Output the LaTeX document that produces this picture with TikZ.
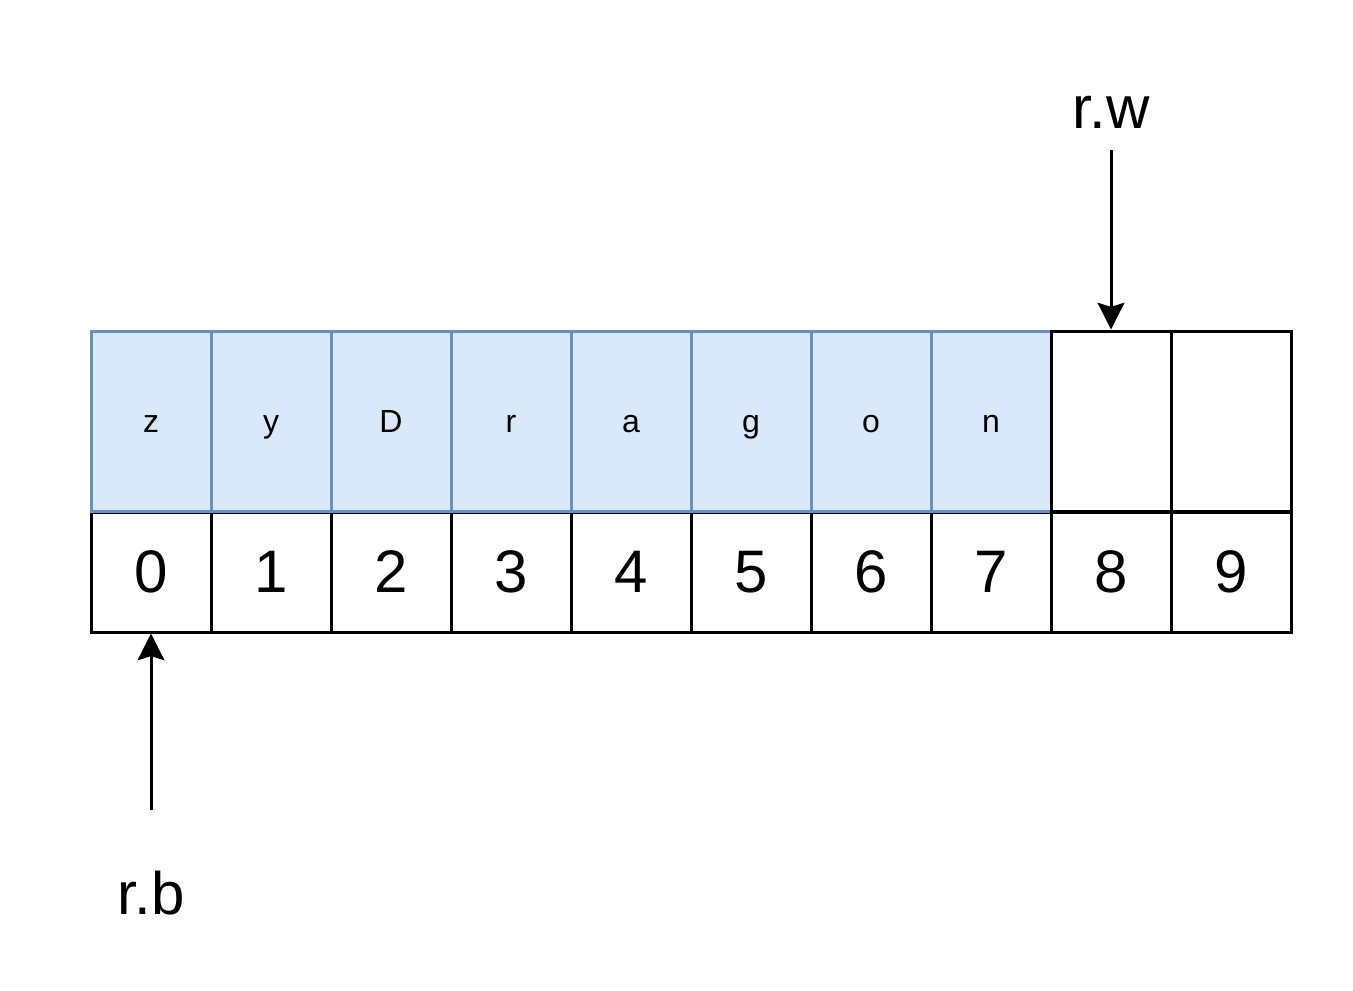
\documentclass[tikz,border=0pt]{standalone}
\usepackage{fontspec}
\setmainfont{Liberation Sans}
\usetikzlibrary{arrows.meta}

\definecolor{cellfill}{HTML}{DAE8FC}
\definecolor{celldraw}{HTML}{6C8EBF}

\tikzset{
  slot/.style={draw=black, line width=2.25pt, minimum width=90pt, minimum height=90pt,
    inner sep=0pt, font=\fontsize{45}{54}\selectfont},
  data/.style={draw=celldraw, fill=cellfill, line width=2.25pt, minimum width=90pt,
    minimum height=135pt, inner sep=0pt, text height=18pt, text depth=1.5pt,
    font=\fontsize{24}{28}\selectfont},
  free/.style={data, draw=black, fill=white},
  ptr/.style={font=\fontsize{45}{54}\selectfont},
  ptrline/.style={line width=2.25pt, -{Stealth[length=20pt,width=20pt,inset=3pt]}},
}

\begin{document}
\begin{tikzpicture}[x=0.75pt,y=-0.75pt]
        \useasboundingbox (0,0) rectangle (1353,990);

        % index row
        \node[slot] (B0) at (151,572) {0};
        \node[slot] (B1) at (271,572) {1};
        \node[slot] (B2) at (391,572) {2};
        \node[slot] (B3) at (511,572) {3};
        \node[slot] (B4) at (631,572) {4};
        \node[slot] (B5) at (751,572) {5};
        \node[slot] (B6) at (871,572) {6};
        \node[slot] (B7) at (991,572) {7};
        \node[slot] (B8) at (1111,572) {8};
        \node[slot] (B9) at (1231,572) {9};

        % buffer contents
        \node[data] (T0) at (151,421) {z};
        \node[data] (T1) at (271,421) {y};
        \node[data] (T2) at (391,421) {D};
        \node[data] (T3) at (511,421) {r};
        \node[data] (T4) at (631,421) {a};
        \node[data] (T5) at (751,421) {g};
        \node[data] (T6) at (871,421) {o};
        \node[data] (T7) at (991,421) {n};
        \node[free] (T8) at (1111,421) {};
        \node[free] (T9) at (1231,421) {};

        % pointers
        \node[ptr] (RW) at (1111,112) {r.w};
        \node[ptr] (RB) at (151,893) {r.b};

        \draw[ptrline, shorten <=13pt] (RW) -- (T8.north);
        \draw[ptrline, shorten <=42pt] (RB.north) -- (B0.south);
      \end{tikzpicture}
\end{document}
